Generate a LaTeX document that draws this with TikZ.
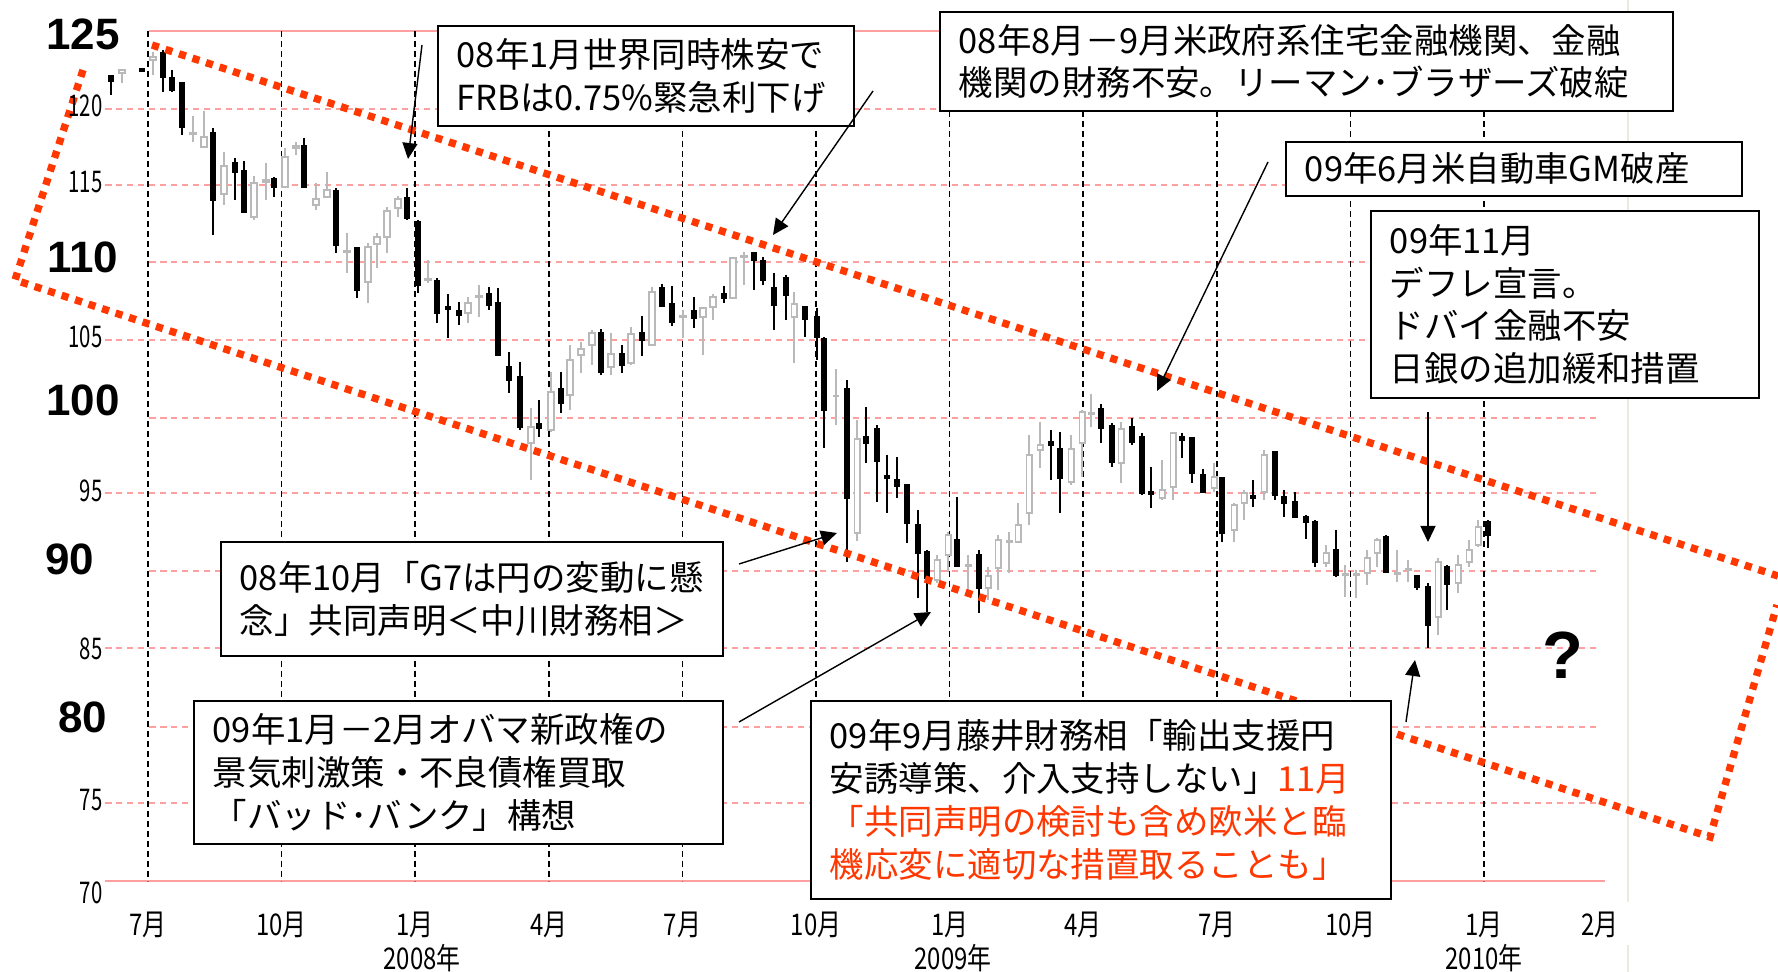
\documentclass[tikz,border=0pt]{standalone}
\usepackage{fontspec}
\setmainfont{Noto Sans CJK JP}
\newfontfamily\arialfont{Liberation Sans}
\usetikzlibrary{arrows.meta}
\definecolor{gridpink}{RGB}{255,160,160}
\definecolor{jred}{RGB}{255,55,0}
\definecolor{candlegrey}{RGB}{185,185,185}
\definecolor{faintline}{RGB}{236,234,220}
\newcommand{\narrow}[1]{\scalebox{0.8}[1]{#1}}
\newcommand{\ticknum}[1]{\scalebox{0.68}[1]{#1}}

\begin{document}
\begin{tikzpicture}[x=0.1mm,y=-0.1mm,
    grid/.style={gridpink,line width=0.6pt,dash pattern=on 0.65mm off 0.45mm},
    gridsolid/.style={gridpink,line width=0.7pt},
    vline/.style={black,line width=0.5pt,dash pattern=on 0.6mm off 0.4mm},
    wick/.style={black,line width=0.4pt},
    gwick/.style={candlegrey,line width=0.4pt},
    gbody/.style={candlegrey,line width=0.4pt,fill=white},
    redbox/.style={jred,line width=2.1pt,dash pattern=on 0.72mm off 0.7mm},
    notebox/.style={draw,fill=white,line width=0.5pt,anchor=north west,align=left,
      inner xsep=1.9mm,inner ysep=0pt,font=\fontsize{9.8}{12.2}\selectfont},
    conn/.style={-{Triangle[length=1.6mm,width=1.5mm]},line width=0.4pt},
    ticklbl/.style={anchor=east,inner sep=0pt,font=\fontsize{8.5}{10}\selectfont},
    biglbl/.style={inner sep=0pt,font=\arialfont\bfseries\fontsize{12.5}{14}\selectfont},
    monlbl/.style={inner sep=0pt,font=\fontsize{8.5}{10}\selectfont}]
  \useasboundingbox (0,0) rectangle (1778,972);
  \fill[white] (0,0) rectangle (1778,972);
  \draw[faintline,line width=0.6pt] (1628,0) -- (1628,902);
  \draw[faintline,line width=0.6pt] (1628,945) -- (1628,972);
  % grid
  \draw[gridsolid] (149,31) -- (1605,31);
  \draw[gridsolid] (105,881) -- (1605,881);
  \foreach \y/\x in {109/105,185/105,262/149,340/105,418/149,493/105,571/149,648/105,727/149,803/105}
    \draw[grid] (\x,\y) -- (1600,\y);
  \foreach \i in {0,...,10}
    \draw[vline] (148+133.6*\i,31) -- (148+133.6*\i,881);
  % candles
  \foreach \x/\bt/\bb/\wt/\wb in {122/70/73/69/83,153/57/60/52/75,193/133/134/116/142,
      204/137/147/111/148,224/166/194/152/205,254/183/217/176/220,266/180/182/163/200,
      285/157/187/148/187,296/146/148/142/155,316/199/205/183/210,327/190/197/172/197,
      347/251/252/233/273,368/247/282/243/303,377/237/244/233/268,387/211/237/207/253,
      398/199/208/196/217,428/279/280/260/283,468/303/313/297/323,479/296/297/285/317,
      531/427/443/408/480,551/392/430/372/432,570/360/395/345/410,581/349/355/342/373,
      592/333/345/330/365,611/354/367/333/375,631/334/363/327/365,652/292/345/287/346,
      683/316/317/310/338,703/308/317/307/355,713/297/307/294/320,733/258/298/257/299,
      744/256/257/252/285,794/304/317/292/363,836/396/396/369/425,857/439/533/420/541,
      937/560/580/555/583,948/535/555/532/572,968/565/566/555/590,988/576/588/567/600,
      998/540/568/535/590,1009/541/542/532/573,1018/525/542/503/542,1029/455/513/435/525,
      1040/445/450/422/468,1071/449/482/435/485,1082/412/443/410/477,1091/413/414/394/427,
      1121/429/463/422/483,1162/490/498/460/500,1173/433/487/432/500,1214/477/488/463/492,
      1234/505/530/503/542,1244/493/503/490/520,1264/455/492/450/500,1326/553/563/545/567,
      1345/574/575/565/597,1356/574/575/570/598,1367/558/573/550/585,1377/540/553/538/567,
      1397/573/574/550/582,1408/569/570/560/582,1438/562/617/558/635,1458/565/583/555/593,
      1469/550/562/540/567,1478/527/545/520/547}{
    \draw[gwick] (\x,\wt) -- (\x,\wb);
    \draw[gbody] (\x-2.8,\bt) rectangle (\x+2.8,\bb);
  }
  \foreach \x/\bt/\bb/\wt/\wb in {111/76/81/76/95,142/69/71/69/71,163/53/77/50/92,
      172/78/90/70/92,182/83/127/83/135,213/133/200/128/235,235/163/172/158/200,
      244/171/212/161/213,274/179/187/177/197,304/146/187/138/187,336/191/245/188/253,
      357/248/290/247/298,407/198/218/188/220,418/222/285/220/293,437/281/313/278/323,
      448/307/309/294/338,459/311/315/302/325,489/294/305/287/310,498/303/355/288/355,
      509/367/380/352/393,520/377/427/362/430,539/424/428/400/437,561/389/403/372/413,
      601/333/372/329/375,622/354/365/345/373,642/333/340/316/356,662/288/306/284/306,
      672/304/322/286/326,694/311/318/297/328,724/294/298/286/303,754/253/260/253/290,
      763/261/280/257/285,774/288/305/273/330,786/278/295/275/320,805/307/319/307/337,
      817/317/337/308/360,824/339/410/337/448,847/389/498/380/562,866/437/443/407/463,
      877/429/461/425/502,887/476/478/455/513,897/480/486/457/498,907/485/523/485/543,
      918/525/553/510/598,927/552/578/550/612,957/540/566/497/567,979/555/588/550/613,
      1051/442/445/430/480,1060/449/478/432/513,1101/409/428/404/443,1112/426/462/423/467,
      1132/427/442/418/445,1142/437/493/433/495,1151/492/494/467/508,1182/437/440/433/458,
      1192/438/473/437/483,1203/475/492/469/493,1222/478/533/477/542,1253/496/498/480/507,
      1275/452/495/452/500,1284/497/503/490/517,1295/502/517/492/518,1306/517/522/515/539,
      1315/522/562/520/567,1336/550/575/530/577,1386/537/572/535/572,1417/576/587/575/590,
      1428/587/625/583/648,1447/567/584/565/610,1488/522/535/520/548}{
    \draw[wick] (\x,\wt) -- (\x,\wb);
    \fill (\x-3.3,\bt-1) rectangle (\x+3.3,\bb+1);
  }
  % trend channel
  \draw[redbox] (83,70) -- (15,280) -- (1710,837) -- (1777,605);
  \draw[redbox] (152,45) -- (1778,576);
  % notes
  \node[notebox,text width=37.8mm,minimum height=10mm] (jan08) at (437,25)
    {08年1月世界同時株安で\\FRBは0.75\%緊急利下げ};
  \node[notebox,text width=69.5mm,minimum height=9.9mm] (lehman) at (939,11)
    {08年8月－9月米政府系住宅金融機関、金融\\機関の財務不安。リーマン･ブラザーズ破綻};
  \node[notebox,text width=41.8mm,minimum height=5.4mm] (gm) at (1285,141)
    {09年6月米自動車GM破産};
  \node[notebox,text width=35mm,minimum height=18.7mm] (nov09) at (1370,210)
    {09年11月\\デフレ宣言。\\ドバイ金融不安\\日銀の追加緩和措置};
  \node[notebox,text width=46.4mm,minimum height=11.4mm] (gseven) at (220,541)
    {08年10月「G7は円の変動に懸\\念」共同声明＜中川財務相＞};
  \node[notebox,text width=49.1mm,minimum height=14.3mm] (obama) at (193,700)
    {09年1月－2月オバマ新政権の\\景気刺激策・不良債権買取\\「バッド･バンク」構想};
  \node[notebox,text width=54.2mm,minimum height=19.8mm] (fujii) at (810,700)
    {09年9月藤井財務相「輸出支援円\\安誘導策、介入支持しない」\textcolor{jred}{11月}\\
     \textcolor{jred}{「共同声明の検討も含め欧米と臨}\\\textcolor{jred}{機応変に適切な措置取ることも」}};
  % arrows
  \coordinate (tail1) at (422,45);   \coordinate (tip1) at (408,159);
  \coordinate (tail2) at (873,91);   \coordinate (tip2) at (773,235);
  \coordinate (tail3) at (1268,162); \coordinate (tip3) at (1157,391);
  \coordinate (tail4) at (1428,412); \coordinate (tip4) at (1428,542);
  \coordinate (tail5) at (739,564);  \coordinate (tip5) at (837,533);
  \coordinate (tail6) at (739,722);  \coordinate (tip6) at (931,612);
  \coordinate (tail7) at (1406,722); \coordinate (tip7) at (1415,660);
  \foreach \i in {1,...,7}
    \draw[conn] (tail\i) -- (tip\i);
  % axis labels
  \foreach \y/\v in {106/120,182/115,337/105,491/95,649/85,800/75,893/70}
    \node[ticklbl] (t\v) at (103,\y) {\ticknum{\v}};
  \node[biglbl] (b125) at (83,34) {125};
  \node[biglbl] (b110) at (83,257) {110};
  \node[biglbl] (b100) at (83,400) {100};
  \node[biglbl] (b90) at (70,559) {90};
  \node[biglbl] (b80) at (83,717) {80};
  \foreach \m [count=\i from 0] in {7,10,1,4,7,10,1,4,7,10,1}
    \node[monlbl] (m\i) at (148+133.6*\i,925) {\narrow{\m 月}};
  \node[monlbl] (feb) at (1600,925) {\narrow{2月}};
  \node[monlbl] (y2008) at (422,958) {\narrow{2008年}};
  \node[monlbl] (y2009) at (953,958) {\narrow{2009年}};
  \node[monlbl] (y2010) at (1484,958) {\narrow{2010年}};
  \node[inner sep=0pt,font=\arialfont\bfseries\fontsize{19}{22}\selectfont] (qmark) at (1563,655) {?};
\end{tikzpicture}
\end{document}
